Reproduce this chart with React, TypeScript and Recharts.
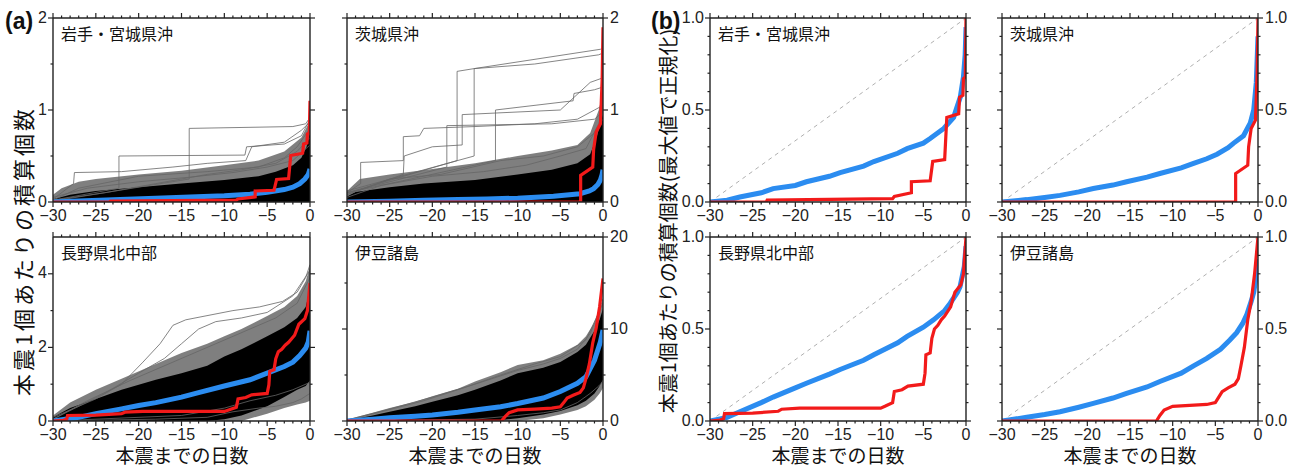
import React from "react";
import { ComposedChart, Line, Area, XAxis, YAxis } from "recharts";

type Pt = [number, number];
type Band = [number, number, number];

// x axis: days before the main shock
const dayTicks = [
  -30, -29, -28, -27, -26, -25, -24, -23, -22, -21, -20, -19, -18, -17, -16, -15,
  -14, -13, -12, -11, -10, -9, -8, -7, -6, -5, -4, -3, -2, -1, 0,
];
const ticksA12 = [0, 0.5, 1, 1.5, 2];
const ticksA3 = [0, 1, 2, 3, 4];
const ticksA4 = [0, 5, 10, 15, 20];
const ticksB = [0, 0.1, 0.2, 0.3, 0.4, 0.5, 0.6, 0.7, 0.8, 0.9, 1];

// ---- 岩手・宮城県沖 ----
const iwateRed: Pt[] = [
  [-30, 0], [-23.4, 0], [-23.3, 0.011], [-8.6, 0.02], [-8.4, 0.033], [-6.4, 0.055], [-6.4, 0.12],
  [-4.2, 0.127], [-3.9, 0.245], [-2.5, 0.255], [-2.25, 0.505], [-0.86, 0.53], [-0.75, 0.63],
  [-0.36, 0.64], [-0.3, 0.74], [-0.08, 0.75], [0, 1.1],
];
const iwateBlue: Pt[] = [
  [-30, 0], [-27, 0.012], [-23, 0.025], [-18, 0.04], [-14, 0.055], [-10, 0.068], [-7, 0.085],
  [-5, 0.105], [-3, 0.135], [-2, 0.16], [-1.2, 0.2], [-0.6, 0.25], [-0.2, 0.3], [0, 0.36],
];
const iwateCore: Band[] = [
  [-30, 0, 0.03], [-28, 0, 0.08], [-25, 0, 0.12], [-20, 0, 0.16], [-15, 0, 0.2], [-10, 0, 0.24],
  [-6, 0, 0.28], [-4, 0, 0.33], [-2, 0, 0.4], [-1, 0, 0.48], [-0.4, 0, 0.6], [0, 0, 0.75],
];
const iwateMid: Band[] = [
  [-30, 0, 0.08], [-29, 0, 0.15], [-27, 0, 0.22], [-25, 0, 0.25], [-20, 0, 0.3], [-15, 0, 0.34],
  [-10, 0, 0.4], [-6, 0, 0.45], [-3, 0, 0.55], [-1, 0, 0.7], [0, 0, 0.88],
];
const iwateSims: Pt[][] = [
  [[-30, 0.03], [-27.6, 0.2], [-27.5, 0.32], [-22, 0.33], [-16, 0.38], [-12, 0.42], [-7.5, 0.45], [-6.8, 0.6], [-3, 0.65], [-1, 0.78], [0, 0.87]],
  [[-30, 0.02], [-22.3, 0.15], [-22.3, 0.5], [-7.6, 0.51], [-7.4, 0.6], [-3, 0.63], [-1, 0.72], [0, 0.9]],
  [[-30, 0.01], [-14.1, 0.25], [-14.1, 0.8], [-2, 0.82], [-0.5, 0.85], [0, 0.92]],
  [[-30, 0.02], [-27, 0.15], [-20, 0.28], [-12, 0.33], [-6, 0.38], [-3, 0.48], [-1.5, 0.6], [0, 0.8]],
  [[-30, 0.05], [-26, 0.15], [-20, 0.22], [-14, 0.27], [-9, 0.32], [-5, 0.38], [-2, 0.45], [0, 0.62]],
  [[-30, 0.02], [-24, 0.1], [-18, 0.2], [-12, 0.3], [-8, 0.35], [-4, 0.42], [-1.5, 0.55], [0, 0.7]],
];
const iwateRedN: Pt[] = [
  [-30, 0], [-23.4, 0], [-23.3, 0.01], [-8.6, 0.018], [-8.4, 0.03], [-6.4, 0.05], [-6.4, 0.11],
  [-4.2, 0.115], [-3.9, 0.22], [-2.5, 0.23], [-2.25, 0.46], [-0.86, 0.48], [-0.75, 0.57],
  [-0.36, 0.58], [-0.3, 0.67], [-0.08, 0.68], [0, 1.0],
];
const iwateBlueN: Pt[] = [
  [-30, 0], [-28, 0.01], [-26.5, 0.027], [-24, 0.05], [-22.6, 0.073], [-20, 0.09], [-18.7, 0.11],
  [-16, 0.14], [-14.75, 0.16], [-12, 0.195], [-10.8, 0.22], [-8, 0.265], [-6.9, 0.29], [-5, 0.32],
  [-4.2, 0.345], [-2.6, 0.4], [-1.45, 0.46], [-0.67, 0.57], [-0.3, 0.68], [-0.1, 0.8], [0, 0.95],
];

// ---- 茨城県沖 ----
const ibarakiRed: Pt[] = [
  [-30, 0], [-2.62, 0], [-2.62, 0.29], [-1.2, 0.38], [-1.1, 0.57], [-0.8, 0.76], [-0.3, 0.85],
  [-0.1, 1.33], [0, 1.9],
];
const ibarakiBlue: Pt[] = [
  [-30, 0], [-25, 0.008], [-21, 0.018], [-17, 0.026], [-13.6, 0.033], [-10, 0.042], [-5.8, 0.062],
  [-2.7, 0.09], [-1.6, 0.12], [-1.1, 0.145], [-0.6, 0.19], [-0.3, 0.24], [-0.1, 0.3], [0, 0.35],
];
const ibarakiCore: Band[] = [
  [-30, 0, 0.06], [-29, 0, 0.11], [-25, 0, 0.16], [-21, 0, 0.2], [-15, 0, 0.24], [-10, 0, 0.3],
  [-6, 0, 0.35], [-3, 0, 0.42], [-1.5, 0, 0.52], [-0.7, 0, 0.72], [0, 0, 0.95],
];
const ibarakiMid: Band[] = [
  [-30, 0, 0.12], [-28.5, 0, 0.25], [-25, 0, 0.3], [-20, 0, 0.36], [-15, 0, 0.42], [-10, 0, 0.5],
  [-6, 0, 0.56], [-3, 0, 0.62], [-1.5, 0, 0.75], [-0.5, 0, 1.0], [0, 0, 1.2],
];
const ibarakiSims: Pt[][] = [
  [[-30, 0.1], [-28.4, 0.2], [-28.4, 0.43], [-23.4, 0.45], [-23.4, 0.71], [-21.5, 0.72], [-21, 0.8], [-15, 0.82], [-8, 0.85], [-3, 0.9], [-1, 1.0], [0, 1.05]],
  [[-30, 0.1], [-17.1, 0.45], [-17.1, 1.42], [-15.1, 1.45], [-0.3, 1.66], [0, 1.68]],
  [[-30, 0.12], [-15.1, 0.5], [-15.1, 1.45], [-8, 1.5], [-0.5, 1.6], [0, 1.62]],
  [[-30, 0.1], [-12.6, 0.45], [-12.6, 1.0], [-3.5, 1.1], [-3.4, 1.18], [-1, 1.22], [0, 1.25]],
  [[-30, 0.1], [-18.3, 0.38], [-18.3, 0.83], [-6, 0.85], [-1, 0.9], [0, 0.98]],
  [[-30, 0.08], [-23.4, 0.3], [-23.3, 0.5], [-20, 0.6], [-16.5, 0.62], [-16.5, 0.95], [-5, 1.0], [-1.5, 1.3], [0, 1.35]],
  [[-30, 0.05], [-26, 0.18], [-20, 0.28], [-14, 0.33], [-9, 0.4], [-5, 0.5], [-2, 0.58], [-0.5, 0.85], [0, 1.0]],
  [[-30, 0.08], [-25, 0.25], [-19, 0.3], [-12, 0.45], [-7, 0.5], [-3, 0.6], [-1, 0.75], [0, 0.9]],
];
const ibarakiRedN: Pt[] = [
  [-30, 0], [-2.62, 0], [-2.62, 0.155], [-1.2, 0.2], [-1.1, 0.3], [-0.8, 0.4], [-0.3, 0.445],
  [-0.1, 0.7], [0, 1.0],
];
const ibarakiBlueN: Pt[] = [
  [-30, 0], [-27.1, 0.013], [-25, 0.025], [-23.2, 0.036], [-21, 0.055], [-19.3, 0.073], [-17, 0.092],
  [-15.4, 0.11], [-13, 0.135], [-11.5, 0.155], [-9, 0.185], [-7.55, 0.21], [-6, 0.235], [-4.8, 0.26],
  [-3.5, 0.295], [-2.85, 0.32], [-1.7, 0.36], [-0.9, 0.43], [-0.5, 0.5], [-0.2, 0.65], [0, 0.9],
];

// ---- 長野県北中部 ----
const naganoRed: Pt[] = [
  [-30, 0], [-28.8, 0.02], [-28.4, 0.05], [-28.3, 0.15], [-25, 0.16], [-22, 0.2], [-21.6, 0.24],
  [-19.5, 0.26], [-10, 0.26], [-9.5, 0.3], [-8.6, 0.37], [-8.4, 0.6], [-7.5, 0.64], [-6.8, 0.71],
  [-5, 0.75], [-4.8, 0.98], [-4.7, 1.35], [-4.2, 1.39], [-4, 1.69], [-3.7, 1.88], [-3.3, 1.95],
  [-2.9, 2.06], [-2.5, 2.14], [-1.8, 2.33], [-1.3, 2.63], [-0.6, 2.78], [-0.3, 3.0], [0, 3.75],
];
const naganoBlue: Pt[] = [
  [-30, 0], [-27, 0.1], [-25, 0.2], [-22, 0.33], [-20, 0.42], [-18, 0.5], [-15, 0.65], [-12.9, 0.78],
  [-10, 0.95], [-7, 1.12], [-5, 1.3], [-3, 1.48], [-2, 1.6], [-1.2, 1.78], [-0.5, 1.98], [-0.2, 2.15],
  [0, 2.45],
];
const naganoCore: Band[] = [
  [-30, 0, 0.1], [-28, 0, 0.35], [-25, 0, 0.6], [-22, 0, 0.85], [-18, 0, 1.12], [-15, 0, 1.3],
  [-12, 0, 1.5], [-10, 0.05, 1.75], [-8, 0.15, 1.95], [-5, 0.4, 2.3], [-3, 0.65, 2.55],
  [-1.5, 0.85, 2.8], [-0.5, 0.95, 3.1], [0, 1.1, 3.6],
];
const naganoMid: Band[] = [
  [-30, 0, 0.15], [-28, 0, 0.5], [-25, 0, 0.85], [-22, 0, 1.15], [-18, 0, 1.55], [-15, 0, 1.85],
  [-12, 0, 2.1], [-10, 0, 2.3], [-8, 0, 2.5], [-5, 0.2, 2.85], [-3, 0.35, 3.1], [-1.5, 0.45, 3.4],
  [-0.5, 0.5, 3.8], [0, 0.55, 4.2],
];
const naganoSims: Pt[][] = [
  [[-30, 0.1], [-25, 0.6], [-22, 1.0], [-19.5, 1.6], [-17.5, 2.1], [-16, 2.6], [-14.5, 2.75], [-9, 3.0], [-5.9, 3.1], [-3.2, 3.25], [-1.5, 3.5], [-0.5, 3.9], [0, 4.25]],
  [[-30, 0.05], [-24, 0.75], [-20, 1.3], [-17, 1.7], [-15, 2.1], [-13, 2.5], [-11, 2.7], [-8, 2.8], [-5, 2.95], [-2, 3.4], [0, 4.1]],
  [[-30, 0], [-18, 0.05], [-12, 0.1], [-9, 0.25], [-6, 0.35], [-4, 0.4], [-2, 0.5], [-1, 0.6], [0, 0.75]],
  [[-30, 0], [-15, 0.15], [-10, 0.35], [-7, 0.55], [-4, 0.7], [-2, 0.85], [0, 1.05]],
  [[-30, 0.05], [-26, 0.55], [-21, 1.1], [-16, 1.6], [-11, 2.1], [-7, 2.5], [-4, 2.8], [-1.5, 3.2], [0, 3.9]],
];
const naganoRedN: Pt[] = [
  [-30, 0], [-28.8, 0.005], [-28.4, 0.013], [-28.3, 0.04], [-25, 0.043], [-22, 0.053], [-21.6, 0.064],
  [-19.5, 0.07], [-10, 0.07], [-9.5, 0.08], [-8.6, 0.1], [-8.4, 0.16], [-7.5, 0.17], [-6.8, 0.19],
  [-5, 0.2], [-4.8, 0.26], [-4.7, 0.36], [-4.2, 0.37], [-4, 0.45], [-3.7, 0.5], [-3.3, 0.52],
  [-2.9, 0.55], [-2.5, 0.57], [-1.8, 0.62], [-1.3, 0.7], [-0.6, 0.74], [-0.3, 0.8], [0, 1.0],
];
const naganoBlueN: Pt[] = [
  [-30, 0], [-28, 0.02], [-26.5, 0.05], [-24, 0.1], [-22.6, 0.13], [-20, 0.18], [-18.7, 0.205],
  [-16, 0.255], [-14.75, 0.28], [-12, 0.33], [-10.8, 0.36], [-8, 0.425], [-6.9, 0.46], [-5, 0.51],
  [-3.8, 0.55], [-2.5, 0.6], [-1.85, 0.64], [-1, 0.7], [-0.7, 0.73], [-0.2, 0.84], [0, 0.95],
];

// ---- 伊豆諸島 ----
const izuRed: Pt[] = [
  [-30, 0], [-11.9, 0], [-11.5, 0.45], [-11, 0.9], [-10, 1.2], [-8, 1.3], [-6, 1.4], [-5, 1.55],
  [-4.6, 2.0], [-4.2, 2.5], [-3.5, 2.8], [-2.7, 3.1], [-2.3, 3.6], [-2, 4.6], [-1.6, 6.2],
  [-1.2, 8.5], [-0.8, 10.1], [-0.4, 12.4], [0, 15.5],
];
const izuBlue: Pt[] = [
  [-30, 0], [-27, 0.2], [-25, 0.35], [-22, 0.52], [-20, 0.65], [-17, 0.95], [-15, 1.2], [-12, 1.55],
  [-10, 1.9], [-7, 2.5], [-5, 3.2], [-3, 4.1], [-2, 4.8], [-1, 6.6], [-0.3, 8.6], [0, 9.9],
];
const izuCore: Band[] = [
  [-30, 0, 0.05], [-27, 0, 0.6], [-25, 0, 1.0], [-22, 0, 1.6], [-20, 0, 2.1], [-17, 0, 2.8],
  [-15, 0, 3.4], [-12, 0.1, 4.4], [-10, 0.3, 5.2], [-7, 0.7, 5.8], [-5, 1.1, 6.4], [-3, 1.7, 7.5],
  [-2, 2.2, 8.3], [-1, 3.0, 9.8], [-0.4, 3.8, 11.0], [0, 4.5, 12.2],
];
const izuMid: Band[] = [
  [-30, 0, 0.15], [-27, 0, 0.9], [-25, 0, 1.4], [-22, 0, 2.1], [-20, 0, 2.7], [-17, 0, 3.5],
  [-15, 0, 4.3], [-12, 0, 5.3], [-10, 0, 6.1], [-7, 0.3, 6.6], [-5, 0.7, 7.3], [-3, 1.2, 8.3],
  [-2, 1.6, 9.2], [-1, 2.3, 10.7], [-0.4, 3.0, 12], [0, 3.6, 13.2],
];
const izuSims: Pt[][] = [
  [[-30, 0.1], [-25, 1.3], [-20, 2.6], [-15, 4.0], [-12, 4.9], [-10, 5.5], [-7, 6.2], [-5, 6.8], [-3, 7.8], [-1.5, 9.5], [-0.5, 11.8], [0, 13.3]],
  [[-30, 0], [-15, 0.2], [-10, 0.6], [-7, 0.9], [-5, 1.2], [-3, 2.0], [-1.5, 3.0], [-0.5, 3.8], [0, 4.3]],
  [[-30, 0.05], [-26, 1.0], [-21, 2.2], [-16, 3.7], [-12, 5.0], [-8, 6.2], [-5, 7.0], [-2, 8.8], [0, 12.8]],
];
const izuRedN: Pt[] = [
  [-30, 0], [-11.9, 0], [-11.5, 0.03], [-11, 0.06], [-10, 0.08], [-8, 0.085], [-6, 0.09], [-5, 0.1],
  [-4.6, 0.13], [-4.2, 0.16], [-3.5, 0.18], [-2.7, 0.2], [-2.3, 0.23], [-2, 0.3], [-1.6, 0.4],
  [-1.2, 0.55], [-0.8, 0.65], [-0.4, 0.8], [0, 1.0],
];
const izuBlueN: Pt[] = [
  [-30, 0], [-27.1, 0.02], [-25, 0.035], [-23.2, 0.05], [-21, 0.075], [-19.3, 0.096], [-17, 0.125],
  [-15.4, 0.15], [-13, 0.185], [-11.5, 0.215], [-9, 0.26], [-7.55, 0.3], [-6, 0.34], [-4.4, 0.39],
  [-3.3, 0.44], [-2.5, 0.48], [-1.8, 0.53], [-1.3, 0.58], [-0.8, 0.65], [-0.5, 0.7], [-0.1, 0.82],
  [0, 0.88],
];

const diagonal: Pt[] = [[-30, 0], [0, 1]];

const RED = "#f21a1a";
const BLUE = "#2b8cf0";
const AXIS = "#222";
const NUM_FONT = "'Liberation Sans', Arial, sans-serif";
const JP_FONT = "'Noto Sans CJK JP', 'Noto Sans', sans-serif";

const L = 40;
const R = 40;
const T = 8;
const B = 30;
const PH = 184;

const toLine = (pts: Pt[]) => pts.map(([x, y]) => ({ x, y }));
const toBand = (rows: Band[]) => rows.map(([x, lo, hi]) => ({ x, y: [lo, hi] }));

type Side = "bottom" | "top" | "left" | "right";

const makeTick =
  (side: Side, show: boolean, major: (v: number) => boolean, fmt: (v: number) => string) =>
  (props: any) => {
    const { x, y, payload } = props;
    const v = payload.value as number;
    const big = major(v);
    const len = big ? 5 : 2.5;
    const txt = { fontFamily: NUM_FONT, fontSize: 16, fill: AXIS };
    let x2 = x;
    let y2 = y;
    if (side === "bottom") y2 = y + len;
    if (side === "top") y2 = y - len;
    if (side === "left") x2 = x - len;
    if (side === "right") x2 = x + len;
    let label = null;
    if (show && big) {
      if (side === "bottom")
        label = (
          <text x={x} y={y + 19} textAnchor="middle" {...txt}>
            {fmt(v)}
          </text>
        );
      if (side === "left")
        label = (
          <text x={x - 6} y={y + 4.5} textAnchor="end" {...txt}>
            {fmt(v)}
          </text>
        );
      if (side === "right")
        label = (
          <text x={x + 7} y={y + 4.5} textAnchor="start" {...txt}>
            {fmt(v)}
          </text>
        );
    }
    return (
      <g>
        <line x1={x} y1={y} x2={x2} y2={y2} stroke={AXIS} strokeWidth={1.2} />
        {label}
      </g>
    );
  };

const dayMajor = (v: number) => v % 5 === 0;
const dayFmt = (v: number) => (v === 0 ? "0" : "\u2212" + Math.abs(v));

type PanelProps = {
  px: number;
  py: number;
  pw: number;
  title: string;
  yDomain: [number, number];
  yTicks: number[];
  yMajor: (v: number) => boolean;
  yFmt: (v: number) => string;
  side: "left" | "right";
  core?: Band[];
  mid?: Band[];
  sims?: Pt[][];
  blue: Pt[];
  red: Pt[];
  diag?: boolean;
};

function Panel(p: PanelProps) {
  const w = p.pw + L + R;
  const h = PH + T + B;
  const axisLine = { stroke: AXIS, strokeWidth: 1.4 };
  return (
    <div style={{ position: "absolute", left: p.px - L, top: p.py - T, width: w, height: h }}>
      <ComposedChart width={w} height={h} margin={{ top: 0, right: 0, bottom: 0, left: 0 }}>
        <XAxis
          xAxisId="b"
          type="number"
          dataKey="x"
          domain={[-30, 0]}
          allowDataOverflow
          ticks={dayTicks}
          interval={0}
          height={B}
          tickSize={0}
          tickMargin={0}
          tickLine={false}
          axisLine={axisLine}
          tick={makeTick("bottom", true, dayMajor, dayFmt)}
        />
        <XAxis
          xAxisId="t"
          orientation="top"
          type="number"
          dataKey="x"
          domain={[-30, 0]}
          allowDataOverflow
          ticks={dayTicks}
          interval={0}
          height={T}
          tickSize={0}
          tickMargin={0}
          tickLine={false}
          axisLine={axisLine}
          tick={makeTick("top", false, dayMajor, dayFmt)}
        />
        <YAxis
          yAxisId="l"
          type="number"
          domain={p.yDomain}
          allowDataOverflow
          ticks={p.yTicks}
          interval={0}
          width={L}
          tickSize={0}
          tickMargin={0}
          tickLine={false}
          axisLine={axisLine}
          tick={makeTick("left", p.side === "left", p.yMajor, p.yFmt)}
        />
        <YAxis
          yAxisId="r"
          orientation="right"
          type="number"
          domain={p.yDomain}
          allowDataOverflow
          ticks={p.yTicks}
          interval={0}
          width={R}
          tickSize={0}
          tickMargin={0}
          tickLine={false}
          axisLine={axisLine}
          tick={makeTick("right", p.side === "right", p.yMajor, p.yFmt)}
        />
        {p.mid && (
          <Area
            xAxisId="b"
            yAxisId="l"
            data={toBand(p.mid)}
            dataKey="y"
            type="linear"
            stroke="none"
            fill="#000"
            fillOpacity={0.5}
            isAnimationActive={false}
          />
        )}
        {p.core && (
          <Area
            xAxisId="b"
            yAxisId="l"
            data={toBand(p.core)}
            dataKey="y"
            type="linear"
            stroke="none"
            fill="#000"
            fillOpacity={1}
            isAnimationActive={false}
          />
        )}
        {(p.sims || []).map((s, i) => (
          <Line
            key={"sim" + i}
            xAxisId="b"
            yAxisId="l"
            data={toLine(s)}
            dataKey="y"
            type="linear"
            stroke="#666"
            strokeWidth={0.8}
            dot={false}
            activeDot={false}
            isAnimationActive={false}
          />
        ))}
        {p.diag && (
          <Line
            xAxisId="b"
            yAxisId="l"
            data={toLine(diagonal)}
            dataKey="y"
            type="linear"
            stroke="#b0b0b0"
            strokeWidth={1}
            strokeDasharray="4 4"
            dot={false}
            activeDot={false}
            isAnimationActive={false}
          />
        )}
        <Line
          xAxisId="b"
          yAxisId="l"
          data={toLine(p.blue)}
          dataKey="y"
          type="linear"
          stroke={BLUE}
          strokeWidth={5}
          dot={false}
          activeDot={false}
          isAnimationActive={false}
        />
        <Line
          xAxisId="b"
          yAxisId="l"
          data={toLine(p.red)}
          dataKey="y"
          type="linear"
          stroke={RED}
          strokeWidth={3.2}
          dot={false}
          activeDot={false}
          isAnimationActive={false}
        />
      </ComposedChart>
      <div
        style={{
          position: "absolute",
          left: L + 8,
          top: T + 5,
          fontFamily: JP_FONT,
          fontSize: 16,
          lineHeight: "20px",
          color: "#111",
          whiteSpace: "nowrap",
        }}
      >
        {p.title}
      </div>
    </div>
  );
}

const halfMajor = (v: number) => Math.abs(v - Math.round(v)) < 1e-6;
const evenMajor = (v: number) => v % 2 === 0;
const tenMajor = (v: number) => v % 10 === 0;
const normMajor = (v: number) => Math.abs(v * 2 - Math.round(v * 2)) < 1e-6;
const intFmt = (v: number) => String(v);
const normFmt = (v: number) => v.toFixed(1);

const xTitle = (cx: number) => (
  <div
    style={{
      position: "absolute",
      left: cx,
      top: 444,
      transform: "translateX(-50%)",
      fontFamily: JP_FONT,
      fontSize: 19,
      lineHeight: "22px",
      color: "#111",
      whiteSpace: "nowrap",
    }}
  >
    本震までの日数
  </div>
);

export default function App() {
  return (
    <div
      style={{
        position: "absolute",
        left: 0,
        top: 0,
        width: 1299,
        height: 468,
        background: "#fff",
        overflow: "hidden",
      }}
    >
      <Panel px={53} py={18} pw={257} title="岩手・宮城県沖" yDomain={[0, 2]} yTicks={ticksA12} yMajor={halfMajor} yFmt={intFmt} side="left" core={iwateCore} mid={iwateMid} sims={iwateSims} blue={iwateBlue} red={iwateRed} />
      <Panel px={347} py={18} pw={256} title="茨城県沖" yDomain={[0, 2]} yTicks={ticksA12} yMajor={halfMajor} yFmt={intFmt} side="right" core={ibarakiCore} mid={ibarakiMid} sims={ibarakiSims} blue={ibarakiBlue} red={ibarakiRed} />
      <Panel px={53} py={237} pw={257} title="長野県北中部" yDomain={[0, 5]} yTicks={ticksA3} yMajor={evenMajor} yFmt={intFmt} side="left" core={naganoCore} mid={naganoMid} sims={naganoSims} blue={naganoBlue} red={naganoRed} />
      <Panel px={347} py={237} pw={256} title="伊豆諸島" yDomain={[0, 20]} yTicks={ticksA4} yMajor={tenMajor} yFmt={intFmt} side="right" core={izuCore} mid={izuMid} sims={izuSims} blue={izuBlue} red={izuRed} />

      <Panel px={710} py={18} pw={256} title="岩手・宮城県沖" yDomain={[0, 1]} yTicks={ticksB} yMajor={normMajor} yFmt={normFmt} side="left" blue={iwateBlueN} red={iwateRedN} diag />
      <Panel px={1002} py={18} pw={256} title="茨城県沖" yDomain={[0, 1]} yTicks={ticksB} yMajor={normMajor} yFmt={normFmt} side="right" blue={ibarakiBlueN} red={ibarakiRedN} diag />
      <Panel px={710} py={237} pw={256} title="長野県北中部" yDomain={[0, 1]} yTicks={ticksB} yMajor={normMajor} yFmt={normFmt} side="left" blue={naganoBlueN} red={naganoRedN} diag />
      <Panel px={1002} py={237} pw={256} title="伊豆諸島" yDomain={[0, 1]} yTicks={ticksB} yMajor={normMajor} yFmt={normFmt} side="right" blue={izuBlueN} red={izuRedN} diag />

      {xTitle(182)}
      {xTitle(475)}
      {xTitle(838)}
      {xTitle(1130)}

      <div style={{ position: "absolute", left: 5, top: 8, fontFamily: NUM_FONT, fontWeight: 700, fontSize: 23, lineHeight: "26px", color: "#111" }}>
        (a)
      </div>
      <div style={{ position: "absolute", left: 651, top: 8, fontFamily: NUM_FONT, fontWeight: 700, fontSize: 23, lineHeight: "26px", color: "#111" }}>
        (b)
      </div>

      <div
        style={{
          position: "absolute",
          left: 22,
          top: 251,
          transform: "translate(-50%, -50%) rotate(-90deg)",
          fontFamily: JP_FONT,
          fontSize: 22,
          letterSpacing: 3,
          lineHeight: "24px",
          color: "#111",
          whiteSpace: "nowrap",
        }}
      >
        本震1個あたりの積算個数
      </div>
      <div
        style={{
          position: "absolute",
          left: 668,
          top: 221,
          transform: "translate(-50%, -50%) rotate(-90deg)",
          fontFamily: JP_FONT,
          fontSize: 20,
          lineHeight: "24px",
          color: "#111",
          whiteSpace: "nowrap",
        }}
      >
        本震1個あたりの積算個数(最大値で正規化)
      </div>
    </div>
  );
}
